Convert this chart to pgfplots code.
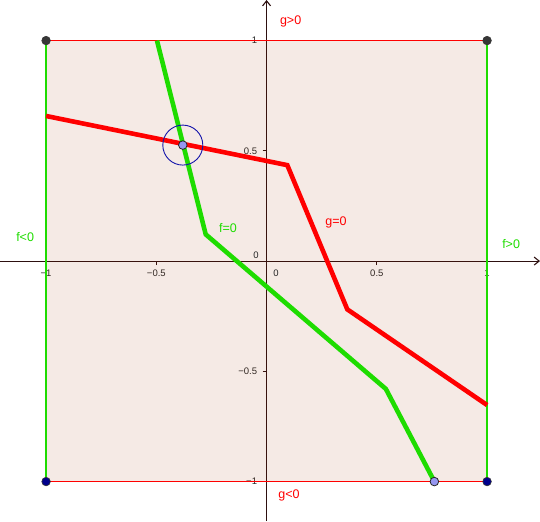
\documentclass[border=0pt]{standalone}
\usepackage{fontspec}
\setmainfont{Liberation Sans}
\usepackage{pgfplots}
\pgfplotsset{compat=1.18}
\usetikzlibrary{arrows.meta}
\definecolor{ggred}{RGB}{255,0,0}
\definecolor{gggreen}{RGB}{30,220,0}
\definecolor{ggbrown}{RGB}{153,51,0}
\definecolor{ggnavy}{RGB}{0,0,140}
\definecolor{ggdark}{RGB}{55,55,55}
\definecolor{gglight}{RGB}{150,150,240}
\definecolor{ggcircle}{RGB}{20,20,170}
\definecolor{ggaxis}{RGB}{45,15,15}
\begin{document}
\begin{tikzpicture}
\begin{axis}[
  x=220.5pt, y=220.5pt,
  scale only axis,
  xmin=-1.209, xmax=1.240, ymin=-1.179, ymax=1.184,
  axis lines=middle,
  every inner x axis line/.append style={-{Straight Barb[length=5pt,width=8pt]}},
  every inner y axis line/.append style={-{Straight Barb[length=5pt,width=8pt]}},
  axis line style={line width=1.1pt, color=ggaxis},
  tick align=outside, major tick length=4pt,
  tick style={line width=0.9pt, color=ggaxis},
  xtick={-1,-0.5,0.5,1}, xticklabels={−1,−0.5,0.5,1},
  ytick={-1,-0.5,0.5,1}, yticklabels={−1,−0.5,0.5,1},
  tick label style={font=\fontsize{9.5}{10}\selectfont, text=black!85},
  xticklabel style={yshift=-1pt},
  yticklabel style={xshift=-2pt},
  clip=false,
]
\coordinate (SW) at (rel axis cs:0,0);
\coordinate (NE) at (rel axis cs:1,1);
% region fill
\addplot[draw=none, fill=ggbrown, fill opacity=0.1] coordinates {(-1,-1) (1,-1) (1,1) (-1,1)} \closedcycle;
% borders
\addplot[ggred, line width=1.4pt] coordinates {(-1,1) (1,1)};
\addplot[ggred, line width=1.4pt] coordinates {(-1,-1) (1,-1)};
\addplot[gggreen, line width=1.4pt] coordinates {(-1,-1) (-1,1)};
\addplot[gggreen, line width=1.4pt] coordinates {(1,-1) (1,1)};
% g = 0
\addplot[ggred, line width=4.6pt] coordinates {(-1,0.658) (0.094,0.435) (0.366,-0.219) (1,-0.653)};
% f = 0
\addplot[gggreen, line width=4.6pt] coordinates {(-0.497,1) (-0.276,0.121) (0.541,-0.580) (0.761,-1)};
% circle around intersection
\addplot[only marks, mark=o, mark size=20pt, mark options={draw=ggcircle, line width=0.9pt}] coordinates {(-0.380,0.526)};
% points
\addplot[only marks, mark=*, mark size=4.3pt, mark options={fill=ggdark, draw=black!80, line width=0.6pt}] coordinates {(-1,1) (1,1)};
\addplot[only marks, mark=*, mark size=4.3pt, mark options={fill=ggnavy, draw=black!80, line width=0.6pt}] coordinates {(-1,-1) (1,-1)};
\addplot[only marks, mark=*, mark size=4.3pt, mark options={fill=gglight, draw=black!85, line width=0.8pt}] coordinates {(-0.380,0.526) (0.761,-1)};
% zero labels
\node[font=\fontsize{9.5}{10}\selectfont, text=black!85] at (axis cs:-0.048,0.027) {0};
\node[font=\fontsize{9.5}{10}\selectfont, text=black!85] at (axis cs:0.043,-0.056) {0};
% region labels
\node[text=ggred, font=\fontsize{12.5}{14}\selectfont] at (axis cs:0.109,1.088) {g>0};
\node[text=ggred, font=\fontsize{12.5}{14}\selectfont] at (axis cs:0.102,-1.061) {g<0};
\node[text=gggreen, font=\fontsize{12.5}{14}\selectfont] at (axis cs:-1.095,0.109) {f<0};
\node[text=gggreen, font=\fontsize{12.5}{14}\selectfont] at (axis cs:1.109,0.077) {f>0};
\node[text=gggreen, font=\fontsize{12.5}{14}\selectfont] at (axis cs:-0.175,0.150) {f=0};
\node[text=ggred, font=\fontsize{12.5}{14}\selectfont] at (axis cs:0.315,0.177) {g=0};
\end{axis}
\pgfresetboundingbox
\path (SW) rectangle (NE);
\end{tikzpicture}
\end{document}
